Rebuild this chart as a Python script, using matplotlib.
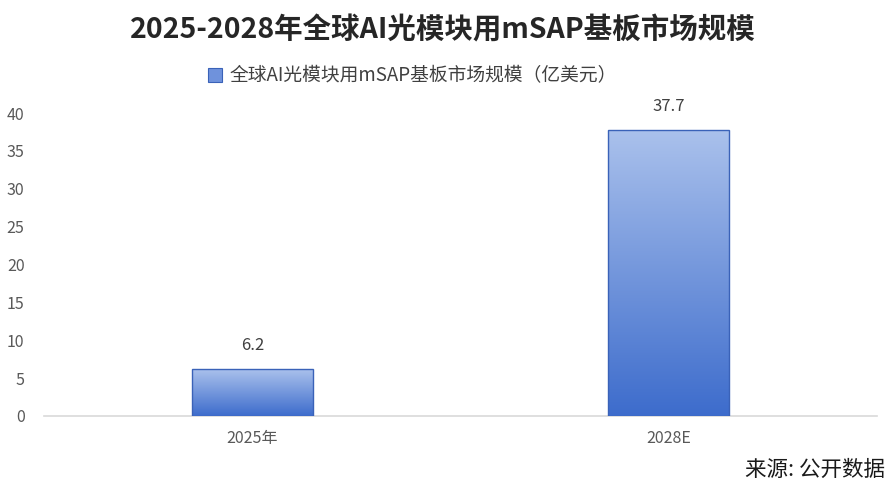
import numpy as np
import matplotlib.pyplot as plt
from matplotlib.colors import LinearSegmentedColormap

plt.rcParams['font.family'] = ['Noto Sans CJK SC', 'DejaVu Sans']

# data
categories = ['2025年', '2028E']
values = [6.2, 37.7]
title = '2025-2028年全球AI光模块用mSAP基板市场规模'
series_name = '全球AI光模块用mSAP基板市场规模（亿美元）'
source = '来源: 公开数据'

fig = plt.figure(figsize=(8.9, 5), dpi=100)
ax = fig.add_axes([44 / 890, 84 / 500, 833 / 890, 303 / 500])

x = np.arange(len(categories))
bars = ax.bar(x, values, width=0.29, color='#6f92dc', edgecolor='none',
              label=series_name, zorder=3)

# vertical gradient inside each bar
cmap = LinearSegmentedColormap.from_list('grad', ['#3d6ccc', '#aac1ec'])
grad = np.linspace(0, 1, 256).reshape(-1, 1)
for b in bars:
    bx, by = b.get_x(), b.get_y()
    w, h = b.get_width(), b.get_height()
    im = ax.imshow(grad, cmap=cmap, origin='lower', aspect='auto',
                   extent=[bx, bx + w, by, by + h], zorder=3.5)
    im.set_clip_path(b)

# outline on top of the gradient
ax.bar(x, values, width=0.29, color='none', edgecolor='#3a62b8',
       linewidth=1.0, zorder=4)

for xi, v in zip(x, values):
    ax.text(xi, v + 2.0, f'{v}', ha='center', va='bottom', fontsize=12,
            color='#404040')

ax.set_xlim(-0.5, 1.5)
ax.set_ylim(0, 40)
ax.set_yticks(range(0, 41, 5))
ax.set_xticks(x)
ax.set_xticklabels(categories)
for s in ['top', 'right', 'left']:
    ax.spines[s].set_visible(False)
ax.spines['bottom'].set_color('#d9d9d9')
ax.spines['bottom'].set_linewidth(1.2)
ax.tick_params(axis='both', length=0, labelsize=11.5, colors='#595959')
ax.tick_params(axis='x', pad=10)
ax.tick_params(axis='y', pad=14)

fig.text(0.498, 0.94, title, ha='center', va='center', fontsize=20.5,
         fontweight='bold', color='#262626')

leg = fig.legend(handles=[bars], labels=[series_name], loc='center',
                 bbox_to_anchor=(0.463, 0.848), frameon=False, fontsize=13.5,
                 handlelength=0.75, handleheight=0.75, handletextpad=0.4)
leg.legend_handles[0].set_edgecolor('#3a62b8')
leg.legend_handles[0].set_linewidth(0.8)
for t in leg.get_texts():
    t.set_color('#404040')

fig.text(0.994, 0.06, source, ha='right', va='center', fontsize=15.5,
         color='#1a1a1a')

plt.savefig('out.png', dpi=100, facecolor='white')
